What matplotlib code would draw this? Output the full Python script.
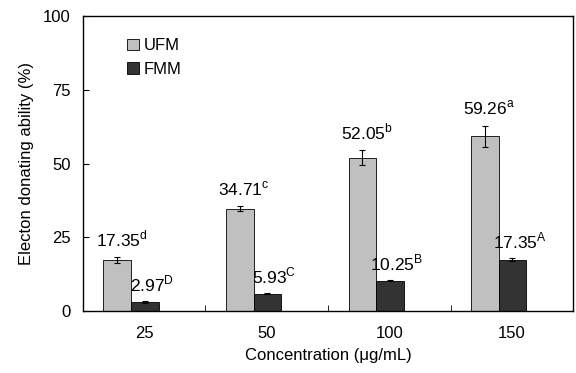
import numpy as np
import matplotlib.pyplot as plt

plt.rcParams['font.family'] = ['Liberation Sans', 'DejaVu Sans']
plt.rcParams['mathtext.fontset'] = 'custom'
plt.rcParams['mathtext.rm'] = 'Liberation Sans'

concentrations = ['25', '50', '100', '150']
ufm = [17.35, 34.71, 52.05, 59.26]
ufm_err = [0.9, 0.8, 2.4, 3.5]
ufm_letters = ['d', 'c', 'b', 'a']
fmm = [2.97, 5.93, 10.25, 17.35]
fmm_err = [0.3, 0.2, 0.2, 0.5]
fmm_letters = ['D', 'C', 'B', 'A']

fig = plt.figure(figsize=(5.76, 3.73), dpi=100)
ax = fig.add_axes([0.144, 0.166, 0.851, 0.791])

x = np.arange(len(concentrations))
w = 0.225
err_kw = dict(ecolor='black', elinewidth=0.8, capsize=2.5, capthick=0.8)
ax.bar(x - 0.22, ufm, w, yerr=ufm_err, color='#C0C0C0', edgecolor='black',
       linewidth=0.6, label='UFM', error_kw=err_kw)
ax.bar(x + 0.005, fmm, w, yerr=fmm_err, color='#333333', edgecolor='black',
       linewidth=0.6, label='FMM', error_kw=err_kw)

fs = 12
for i in range(len(x)):
    ax.annotate(f'{ufm[i]:.2f}' + r'$^{\mathrm{' + ufm_letters[i] + '}}$',
                (x[i] - 0.22, ufm[i] + ufm_err[i]), xytext=(3, 6),
                textcoords='offset points', ha='center', va='bottom', fontsize=12.5)
    ax.annotate(f'{fmm[i]:.2f}' + r'$^{\mathrm{' + fmm_letters[i] + '}}$',
                (x[i] + 0.005, fmm[i] + fmm_err[i]), xytext=(5, 5),
                textcoords='offset points', ha='center', va='bottom', fontsize=12.5)

ax.set_xlim(-0.5, 3.5)
ax.set_ylim(0, 100)
ax.set_yticks([0, 25, 50, 75, 100])
ax.set_xticks(x)
ax.set_xticklabels(concentrations)
ax.set_xticks([0.5, 1.5, 2.5], minor=True)
ax.tick_params(axis='x', which='major', length=0, labelsize=fs, pad=11)
ax.tick_params(axis='x', which='minor', direction='in', length=4)
ax.tick_params(axis='y', direction='in', length=4, labelsize=fs, pad=9)
for s in ax.spines.values():
    s.set_linewidth(1.0)

ax.set_xlabel('Concentration (μg/mL)', fontsize=fs, labelpad=5)
ax.set_ylabel('Electon donating ability (%)', fontsize=fs, labelpad=6)
ax.legend(loc='upper left', bbox_to_anchor=(0.06, 0.975), frameon=False,
          fontsize=fs, handlelength=0.7, handleheight=0.7, handletextpad=0.3,
          labelspacing=0.5)

fig.savefig('out.png', dpi=100)
